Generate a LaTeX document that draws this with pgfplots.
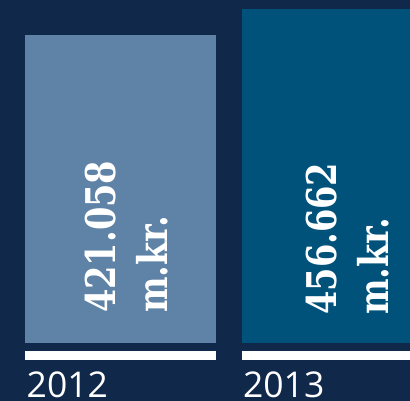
\documentclass[border=0pt]{standalone}
\usepackage{pgfplots}
\pgfplotsset{compat=1.18}
\usepackage{fontspec}
\setmainfont{Open Sans}
\newfontfamily\slab{DejaVu Serif}[FakeStretch=0.82]
\definecolor{bgcol}{HTML}{10284A}
\definecolor{barA}{HTML}{5E83A6}
\definecolor{barB}{HTML}{00527A}
\begin{document}
\begin{tikzpicture}
\begin{axis}[
  scale only axis,
  width=410pt, height=401pt,
  xmin=-0.5568, xmax=1.3378,
  ymin=-79.07, ymax=469.5,
  axis background/.style={fill=bgcol},
  axis line style={draw=none},
  tick style={draw=none},
  ytick=\empty,
  xtick={0,1},
  xticklabels={2012,2013},
  typeset ticklabels with strut=false,
  xticklabel style={anchor=base west, inner sep=0pt, xshift=-94pt, yshift=8pt,
    font=\fontsize{35.5}{40}\selectfont, text=white},
  ybar, bar width=0.880, bar shift=0pt,
]
\addplot[fill=barA, draw=none] coordinates {(0,421.058)};
\addplot[fill=barB, draw=none] coordinates {(1,456.662)};
\fill[white] (axis cs:-0.440,-10.26) rectangle (axis cs:0.440,-22.98);
\fill[white] (axis cs:0.560,-10.26) rectangle (axis cs:1.440,-22.98);
\node[rotate=90, anchor=north west, inner sep=0pt, align=left, text=white,
  font=\slab\bfseries\fontsize{41}{52}\selectfont]
  at (axis cs:-0.164,41.3) {421.058\\m.kr.};
\node[rotate=90, anchor=north west, inner sep=0pt, align=left, text=white,
  font=\slab\bfseries\fontsize{41}{52}\selectfont]
  at (axis cs:0.857,38.6) {456.662\\m.kr.};
\end{axis}
\pgfresetboundingbox
\path[use as bounding box] (current axis.south west) rectangle (current axis.north east);
\end{tikzpicture}
\end{document}
